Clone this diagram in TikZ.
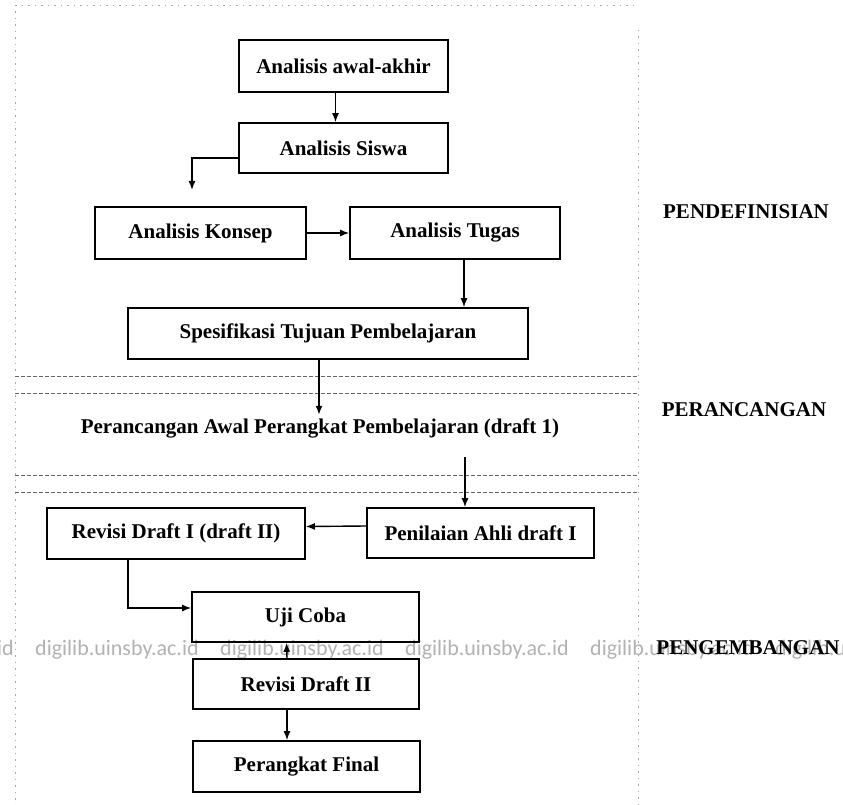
\documentclass[tikz,border=0pt]{standalone}
\usepackage{fontspec}
\setmainfont{Liberation Serif}
\newfontfamily\wmfont{Carlito}
\usetikzlibrary{arrows.meta}

\begin{document}
\begin{tikzpicture}[x=1pt,y=-1pt,
	kotak/.style={draw,line width=1.6pt,inner sep=0pt,font=\fontsize{21}{25}\selectfont\bfseries},
	judul/.style={font=\fontsize{21}{25}\selectfont\bfseries},
	panah/.style={line width=1.4pt,-{Latex[length=9pt,width=7pt]}},
	bingkai/.style={gray!70,line width=0.5pt,dash pattern=on 1.5pt off 5pt},
	garis/.style={gray!80!black,line width=0.6pt,dash pattern=on 4pt off 2pt},
	tanda/.style={text=gray!60,font=\wmfont\fontsize{22}{26}\selectfont,inner sep=0pt}]

		\useasboundingbox[fill=white] (0,0) rectangle (843,805);

		\draw[bingkai] (15,5) -- (638,5);
		\draw[bingkai] (15,5) -- (15,805);
		\draw[bingkai] (638,30) -- (638,805);
		\draw[garis] (15,376) -- (638,376);
		\draw[garis] (15,393) -- (638,393);
		\draw[garis] (15,475) -- (638,475);
		\draw[garis] (15,492) -- (638,492);

		\foreach \i in {-1,...,4}
			\node[tanda,anchor=base west] (wm\i) at (35+185*\i,655) {digilib.uinsby.ac.id};

		\node[kotak,minimum width=209pt,minimum height=52pt] (awal) at (343.5,66) {Analisis awal-akhir};
		\node[kotak,minimum width=209pt,minimum height=50pt] (siswa) at (343.5,148) {Analisis Siswa};
		\node[kotak,minimum width=211pt,minimum height=52pt] (konsep) at (200.5,233) {Analisis Konsep};
		\node[kotak,minimum width=210pt,minimum height=52pt] (tugas) at (455,233) {Analisis Tugas};
		\node[kotak,minimum width=400pt,minimum height=51pt] (spes) at (328,333.5) {Spesifikasi Tujuan Pembelajaran};
		\node[judul] (rancang) at (320,428) {Perancangan Awal Perangkat Pembelajaran (draft 1)};
		\node[kotak,minimum width=227pt,minimum height=50pt] (nilai) at (480.5,533) {Penilaian Ahli draft I};
		\node[kotak,minimum width=258pt,minimum height=51pt] (revisi1) at (176,533.5) {Revisi Draft I (draft II)};
		\node[kotak,minimum width=227pt,minimum height=50pt] (uji) at (305.5,617) {Uji Coba};
		\node[kotak,minimum width=226pt,minimum height=50pt] (revisi2) at (306,684) {Revisi Draft II};
		\node[kotak,minimum width=227pt,minimum height=51pt] (final) at (306.5,766.5) {Perangkat Final};

		\node[judul] (pendef) at (746,212) {PENDEFINISIAN};
		\node[judul] (peranc) at (744,410) {PERANCANGAN};
		\node[judul] (pengemb) at (748,648) {PENGEMBANGAN};

		\coordinate (ujungsiswa) at (192,190);
		\coordinate (awalnilai) at (465,457);

		\draw[panah] ([xshift=-8pt]awal.south) -- ([xshift=-8pt]siswa.north);

		\draw[panah] ([yshift=-10pt]siswa.west) -| (ujungsiswa);

		\draw[panah] (konsep) -- (tugas);

		\draw[panah] ([xshift=9pt]tugas.south) -- ([xshift=9pt]tugas.south |- spes.north);

		\draw[panah] ([xshift=-9pt]spes.south) -- ([xshift=-9pt]spes.south |- rancang.north);

		\draw[panah] (awalnilai) -- (awalnilai |- nilai.north);

		\draw[panah] ([yshift=7pt]nilai.west) -- ([yshift=7pt]revisi1.east);

		\draw[panah] ([xshift=-48pt]revisi1.south) |- ([yshift=9pt]uji.west);

		\draw[panah] ([xshift=-19pt]revisi2.north) -- ([xshift=-19pt]uji.south);

		\draw[panah] ([xshift=-19pt]revisi2.south) -- ([xshift=-19pt]revisi2.south |- final.north);

	\end{tikzpicture}
\end{document}
